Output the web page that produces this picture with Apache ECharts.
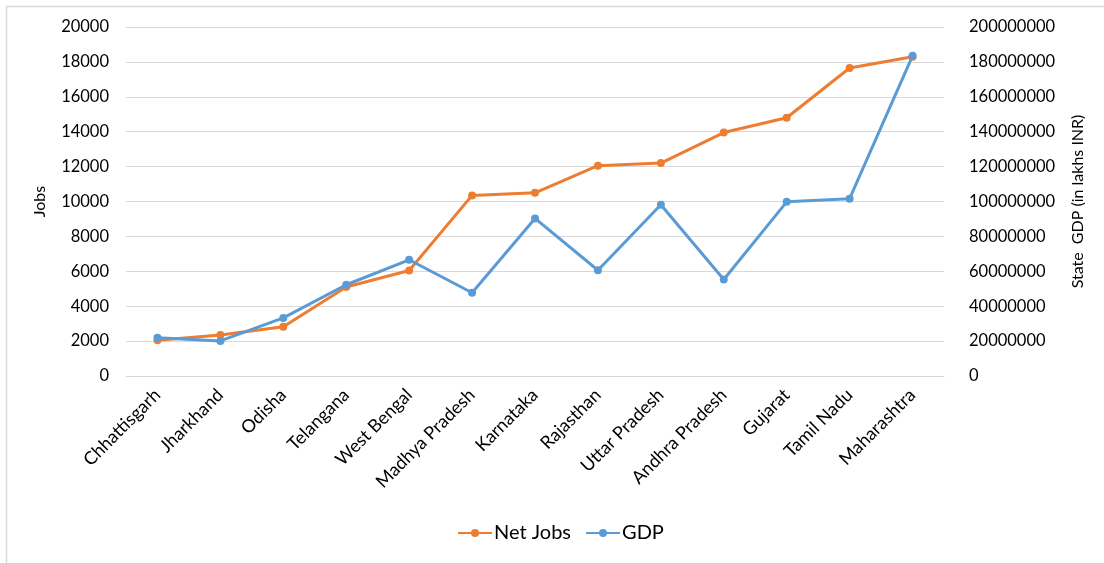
<!DOCTYPE html>
<html>
<head>
<meta charset="utf-8">
<script src="https://cdn.jsdelivr.net/npm/echarts@6/dist/echarts.min.js"></script>
<style>
html,body{margin:0;padding:0;background:#fff;}
#chart{width:1104px;height:563px;}
</style>
</head>
<body>
<div id="chart"></div>
<script>
const categories = ["Chhattisgarh","Jharkhand","Odisha","Telangana","West Bengal","Madhya Pradesh","Karnataka","Rajasthan","Uttar Pradesh","Andhra Pradesh","Gujarat","Tamil Nadu","Maharashtra"];
const netJobs = [2050, 2350, 2820, 5100, 6050, 10350, 10500, 12050, 12200, 13950, 14800, 17650, 18300];
const gdp = [21900000, 20100000, 33300000, 52300000, 66600000, 47700000, 90300000, 60600000, 98100000, 55300000, 99800000, 101600000, 183500000];
const leftTicks = {min: 0, max: 20000, interval: 2000};
const rightTicks = {min: 0, max: 200000000, interval: 20000000};

const font = 'Lato, "Open Sans", sans-serif';
const plain = v => String(v);
const chart = echarts.init(document.getElementById('chart'), null, {renderer: 'canvas'});
chart.setOption({
  animation: false,
  backgroundColor: '#ffffff',
  graphic: [{
    type: 'rect',
    shape: {x: 6.5, y: 6.5, width: 1110, height: 570},
    style: {fill: 'none', stroke: '#d9d9d9', lineWidth: 1.5},
    silent: true
  }],
  grid: {left: 126, right: 160, top: 27, bottom: 187, containLabel: false},
  legend: {
    bottom: 15,
    left: 452,
    itemWidth: 34,
    itemHeight: 10,
    itemGap: 14,
    textStyle: {fontFamily: font, fontSize: 20, color: '#000', padding: [0, 0, 0, -3]},
    data: ['Net Jobs', 'GDP']
  },
  xAxis: {
    type: 'category',
    data: categories,
    boundaryGap: true,
    axisLine: {show: true, lineStyle: {color: '#d9d9d9', width: 1}},
    axisTick: {show: false},
    axisLabel: {rotate: 45, interval: 0, fontFamily: font, fontSize: 18, color: '#000', margin: 16}
  },
  yAxis: [{
    type: 'value',
    min: leftTicks.min, max: leftTicks.max, interval: leftTicks.interval,
    name: 'Jobs',
    nameLocation: 'middle',
    nameGap: 78,
    nameRotate: 90,
    nameTextStyle: {fontFamily: font, fontSize: 16, color: '#000'},
    axisLine: {show: false},
    axisTick: {show: false},
    splitLine: {lineStyle: {color: '#d9d9d9', width: 1}},
    axisLabel: {fontFamily: font, fontSize: 16.5, color: '#000', margin: 17, formatter: plain}
  }, {
    type: 'value',
    min: rightTicks.min, max: rightTicks.max, interval: rightTicks.interval,
    name: 'State  GDP (in lakhs INR)',
    nameLocation: 'middle',
    nameGap: 126,
    nameRotate: 90,
    nameTextStyle: {fontFamily: font, fontSize: 16, color: '#000'},
    axisLine: {show: false},
    axisTick: {show: false},
    splitLine: {show: false},
    axisLabel: {fontFamily: font, fontSize: 16.5, color: '#000', margin: 25, formatter: plain}
  }],
  series: [{
    name: 'Net Jobs',
    type: 'line',
    yAxisIndex: 0,
    data: netJobs,
    symbol: 'circle',
    symbolSize: 8,
    showAllSymbol: true,
    lineStyle: {color: '#ED7D31', width: 3},
    itemStyle: {color: '#ED7D31'},
    z: 2
  }, {
    name: 'GDP',
    type: 'line',
    yAxisIndex: 1,
    data: gdp,
    symbol: 'circle',
    symbolSize: 8,
    showAllSymbol: true,
    lineStyle: {color: '#5B9BD5', width: 3},
    itemStyle: {color: '#5B9BD5'},
    z: 3
  }]
});
</script>
</body>
</html>
